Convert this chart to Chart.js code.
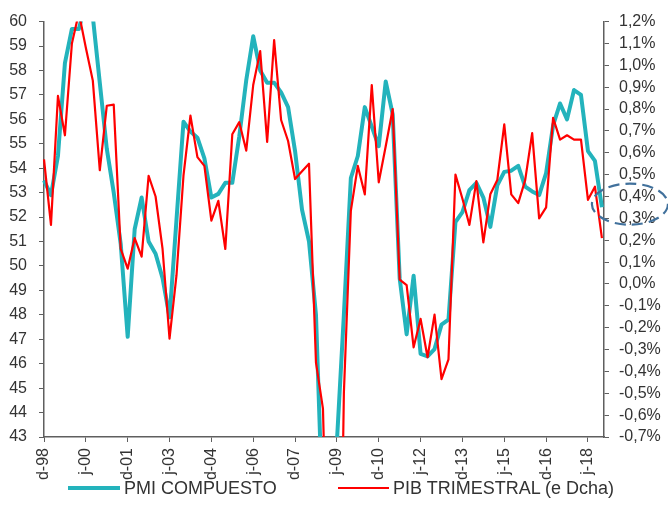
<!DOCTYPE html>
<html>
<head>
<meta charset="utf-8">
<script src="https://cdn.jsdelivr.net/npm/chart.js@4.4.1/dist/chart.umd.min.js"></script>
<style>
  html, body { margin: 0; padding: 0; background: #fff; }
  #wrap { position: relative; width: 668px; height: 523px; }
  canvas { position: absolute; left: 0; top: 0; }
  .leg { position: absolute; top: 477px; height: 22px; display: flex; align-items: center;
         font-family: "Liberation Sans", Arial, sans-serif; font-size: 18px; color: #333;
         white-space: nowrap; }
  .leg i { display: inline-block; margin-right: 4px; }
</style>
</head>
<body>
<div id="wrap">
  <canvas id="chart" width="668" height="523"></canvas>
  <div class="leg" style="left:68px"><i style="width:52px;height:4px;background:#23b3bc"></i>PMI COMPUESTO</div>
  <div class="leg" style="left:338px"><i style="width:51px;height:2px;background:#ff0000"></i>PIB TRIMESTRAL (e Dcha)</div>
</div>
<script>
// Quarterly series, first quarter = Q4 1998
const pmiCompuesto = [
  53.5, 52.9, 54.5, 58.3, 59.7, 59.7, 60.8, 60.2, 57.5, 54.8,
  53.0, 50.9, 47.1, 51.5, 52.8, 51.0, 50.5, 49.5, 47.9, 51.9,
  55.9, 55.5, 55.25, 54.4, 52.8, 52.95, 53.4, 53.4, 55.3, 57.6,
  59.4, 58.0, 57.5, 57.5, 57.1, 56.5, 54.7, 52.3, 51.0, 48.0,
  39.5, 37.5, 42.8, 48.0, 53.6, 54.5, 56.5, 55.7, 54.9, 57.55,
  56.2, 49.5, 47.2, 49.6, 46.4, 46.3, 46.6, 47.6, 47.8, 51.8,
  52.2, 53.1, 53.4, 52.8, 51.6, 53.3, 53.85, 53.9, 54.1, 53.25,
  53.05, 52.9, 53.8, 55.75, 56.65, 56.0, 57.2, 57.0, 54.7, 54.3,
  52.4
];

// Quarter-on-quarter GDP growth, %
const pibTrimestral = [
  0.57, 0.27, 0.86, 0.68, 1.10, 1.24, 1.08, 0.93, 0.52, 0.815,
  0.82, 0.16, 0.07, 0.21, 0.125, 0.495, 0.40, 0.16, -0.25, 0.04,
  0.495, 0.77, 0.58, 0.54, 0.29, 0.38, 0.16, 0.685, 0.74, 0.61,
  0.91, 1.065, 0.65, 1.115, 0.75, 0.654, 0.48, 0.515, 0.55, -0.36,
  -0.57, -1.8, -2.6, -0.5, 0.335, 0.54, 0.41, 0.91, 0.465, 0.63,
  0.80, 0.02, -0.005, -0.29, -0.16, -0.335, -0.14, -0.435, -0.345, 0.50,
  0.39, 0.27, 0.47, 0.19, 0.41, 0.475, 0.73, 0.41, 0.37, 0.475,
  0.69, 0.30, 0.35, 0.76, 0.66, 0.68, 0.66, 0.66, 0.385, 0.445,
  0.21
];

// Axis labels, one every six quarters
const tickLabels = ['d-98', 'j-00', 'd-01', 'j-03', 'd-04', 'j-06', 'd-07',
                    'j-09', 'd-10', 'j-12', 'd-13', 'j-15', 'd-16', 'j-18'];
const quartersPerTick = 6;

const TEAL = '#23b3bc';
const RED = '#ff0000';
const AXIS = '#5f5f5f';
const TEXT = '#333333';
const FONT = { family: '"Liberation Sans", Arial, sans-serif', size: 16 };

// Dashed ring marking the latest readings
const latestRing = {
  id: 'latestRing',
  afterDraw(chart) {
    const x = chart.scales.x, y1 = chart.scales.y1;
    const cx = x.getPixelForValue(pmiCompuesto.length - 1) + 28;
    const cy = y1.getPixelForValue(0.365);
    const ctx = chart.ctx;
    ctx.save();
    ctx.strokeStyle = '#41719c';
    ctx.lineWidth = 2.2;
    ctx.setLineDash([11, 6]);
    ctx.beginPath();
    ctx.ellipse(cx, cy, 38, 20.5, 0, 0, Math.PI * 2);
    ctx.stroke();
    ctx.restore();
  }
};

const toPoints = arr => arr.map((v, i) => ({ x: i, y: v }));

new Chart(document.getElementById('chart'), {
  type: 'line',
  data: {
    datasets: [
      {
        label: 'PMI COMPUESTO',
        data: toPoints(pmiCompuesto),
        yAxisID: 'y',
        borderColor: TEAL,
        borderWidth: 4,
        pointRadius: 0,
        tension: 0,
        borderJoinStyle: 'round',
        clip: { left: 2, right: 2, top: 0, bottom: 0 },
        order: 1
      },
      {
        label: 'PIB TRIMESTRAL (e Dcha)',
        data: toPoints(pibTrimestral),
        yAxisID: 'y1',
        borderColor: RED,
        borderWidth: 2.2,
        pointRadius: 0,
        tension: 0,
        borderJoinStyle: 'round',
        clip: { left: 2, right: 2, top: 0, bottom: 0 },
        order: 0
      }
    ]
  },
  options: {
    responsive: false,
    devicePixelRatio: 1,
    animation: false,
    events: [],
    layout: { padding: { top: 18, left: 0, right: 0, bottom: 0 } },
    plugins: { legend: { display: false }, tooltip: { enabled: false } },
    scales: {
      x: {
        type: 'linear',
        min: 0,
        max: 80.3,
        afterBuildTicks: s => { s.ticks = tickLabels.map((_, k) => ({ value: k * quartersPerTick })); },
        afterFit: s => { s.height = 86; },
        grid: { drawOnChartArea: false, drawTicks: true, tickLength: 5, color: AXIS, lineWidth: 1 },
        border: { color: AXIS, width: 1.5 },
        ticks: {
          autoSkip: false, minRotation: 90, maxRotation: 90, padding: 6,
          color: TEXT, font: FONT,
          callback: v => tickLabels[Math.round(v / quartersPerTick)]
        }
      },
      y: {
        position: 'left',
        min: 43,
        max: 60,
        afterFit: s => { s.width = 44; },
        grid: { drawOnChartArea: false, drawTicks: true, tickLength: 5, color: AXIS, lineWidth: 1 },
        border: { color: AXIS, width: 1.5 },
        ticks: { stepSize: 1, autoSkip: false, padding: 12, color: TEXT, font: FONT }
      },
      y1: {
        position: 'right',
        min: -0.7,
        max: 1.2,
        afterFit: s => { s.width = 64; },
        grid: { drawOnChartArea: false, drawTicks: true, tickLength: 5, color: AXIS, lineWidth: 1 },
        border: { color: AXIS, width: 1.5 },
        ticks: {
          stepSize: 0.1, autoSkip: false, padding: 10, color: TEXT, font: FONT,
          callback: v => (Math.round(v * 10) / 10).toFixed(1).replace('.', ',') + '%'
        }
      }
    }
  },
  plugins: [latestRing]
});
</script>
</body>
</html>
